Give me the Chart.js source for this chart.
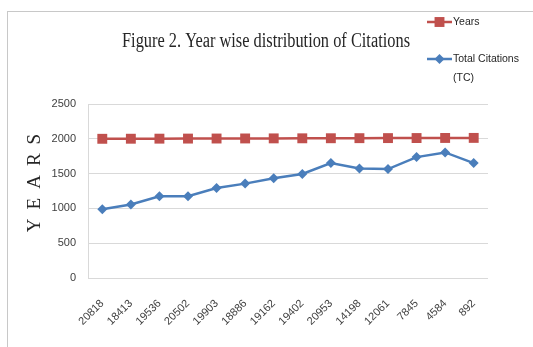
<!DOCTYPE html>
<html>
<head>
<meta charset="utf-8">
<script src="https://cdn.jsdelivr.net/npm/chart.js@4/dist/chart.umd.min.js"></script>
<style>
    html, body { margin: 0; padding: 0; background: #fff; }
    #wrap { position: relative; width: 533px; height: 347px; }
    #frame {
        position: absolute; left: 7px; top: 11px; right: -2px; bottom: -2px;
        border-top: 1px solid #c8c8c8; border-left: 1px solid #c8c8c8;
        pointer-events: none;
    }
</style>
</head>
<body>
<div id="wrap">
    <canvas id="citationsChart" width="533" height="347"></canvas>
    <div id="frame"></div>
</div>
<script>
const categories = ['20818', '18413', '19536', '20502', '19903', '18886', '19162',
    '19402', '20953', '14198', '12061', '7845', '4584', '892'];
const years = [2000, 2001, 2002, 2003, 2004, 2005, 2006, 2007, 2008, 2009, 2010, 2011, 2012, 2013];
const totalCitations = [988, 1055, 1174, 1176, 1293, 1356, 1432, 1494, 1651, 1575, 1565, 1737, 1804, 1651];
const yTicks = [0, 500, 1000, 1500, 2000, 2500];

const tickColor = '#404040';
const sansFont = "'Liberation Sans', Arial, sans-serif";
const serifFont = "'Liberation Serif', 'Times New Roman', serif";

// title, rotated axis title and the legend on the right
const decorations = {
    id: 'decorations',
    afterDraw(chart) {
        const ctx = chart.ctx;
        ctx.save();

        ctx.fillStyle = '#262626';
        ctx.font = `20px ${serifFont}`;
        ctx.textAlign = 'center';
        ctx.textBaseline = 'alphabetic';
        ctx.fillText('Figure 2. Year wise distribution of Citations', 266, 47, 288);

        ctx.save();
        ctx.translate(35, 183);
        ctx.rotate(-Math.PI / 2);
        ctx.letterSpacing = '9px';
        ctx.font = `19px ${serifFont}`;
        ctx.textBaseline = 'middle';
        ctx.fillText('YEARS', 4.5, 0);
        ctx.restore();

        const rows = [
            { ds: chart.data.datasets[0], y: 22, lines: ['Years'] },
            { ds: chart.data.datasets[1], y: 59, lines: ['Total Citations', '(TC)'] }
        ];
        ctx.font = `10.5px ${sansFont}`;
        ctx.textAlign = 'left';
        ctx.textBaseline = 'middle';
        rows.forEach(row => {
            ctx.strokeStyle = row.ds.borderColor;
            ctx.lineWidth = row.ds.borderWidth;
            ctx.beginPath();
            ctx.moveTo(427, row.y);
            ctx.lineTo(452, row.y);
            ctx.stroke();
            ctx.fillStyle = row.ds.pointBackgroundColor;
            Chart.helpers.drawPoint(ctx, {
                pointStyle: row.ds.pointStyle,
                radius: row.ds.pointRadius,
                borderWidth: 0
            }, 439.5, row.y);
            ctx.fillStyle = '#262626';
            row.lines.forEach((text, i) => ctx.fillText(text, 453, row.y + i * 19));
        });

        ctx.restore();
    }
};

new Chart(document.getElementById('citationsChart'), {
    type: 'line',
    data: {
        labels: categories,
        datasets: [{
            label: 'Years',
            data: years,
            borderColor: '#c0504d',
            backgroundColor: '#c0504d',
            pointBackgroundColor: '#c0504d',
            pointBorderColor: '#c0504d',
            pointStyle: 'rect',
            pointRadius: 7,
            pointBorderWidth: 0,
            borderWidth: 2.5,
            tension: 0
        }, {
            label: 'Total Citations (TC)',
            data: totalCitations,
            borderColor: '#4a7ebb',
            backgroundColor: '#4a7ebb',
            pointBackgroundColor: '#4a7ebb',
            pointBorderColor: '#4a7ebb',
            pointStyle: 'rectRot',
            pointRadius: 5,
            pointBorderWidth: 0,
            borderWidth: 2.5,
            tension: 0
        }]
    },
    options: {
        responsive: false,
        animation: false,
        layout: { padding: { top: 104, left: 0, right: 45, bottom: 0 } },
        plugins: {
            legend: { display: false },
            title: { display: false },
            tooltip: { enabled: false }
        },
        scales: {
            x: {
                offset: true,
                grid: { display: false },
                border: { display: false },
                ticks: {
                    color: tickColor,
                    font: { family: sansFont, size: 11 },
                    minRotation: 45,
                    maxRotation: 45,
                    autoSkip: false,
                    padding: 11
                },
                afterFit: scale => { scale.height = 69; }
            },
            y: {
                min: 0,
                max: 2500,
                afterBuildTicks: scale => { scale.ticks = yTicks.map(value => ({ value })); },
                grid: { color: '#d9d9d9', lineWidth: 1, drawTicks: false },
                border: { display: true, color: '#d9d9d9' },
                ticks: {
                    color: tickColor,
                    font: { family: sansFont, size: 11 },
                    padding: 12,
                    callback: value => String(value)
                },
                afterFit: scale => { scale.width = 88; }
            }
        }
    },
    plugins: [decorations]
});
</script>
</body>
</html>
